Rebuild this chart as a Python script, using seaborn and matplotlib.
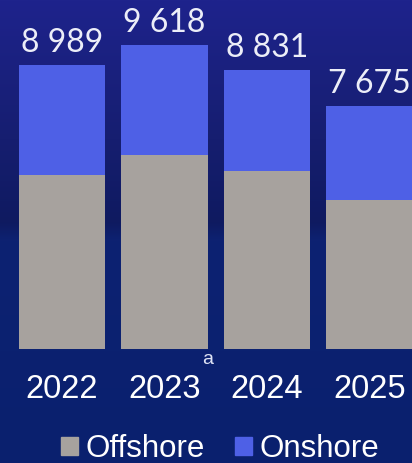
import numpy as np
import pandas as pd
import matplotlib
matplotlib.use('Agg')
import matplotlib.pyplot as plt
from matplotlib.colors import LinearSegmentedColormap
from matplotlib.patches import Patch
import seaborn as sns

###############################################################################

years = ['2022', '2023', '2024', '2025']
offshore = [5510, 6140, 5635, 4720]
onshore = [3479, 3478, 3196, 2955]
series_names = ['Offshore', 'Onshore']
footnote = 'a'

col_off = '#a7a29e'
col_on = '#4e60e6'
txt_col = '#eceef8'

###############################################################################

if __name__ == "__main__":

    df = pd.DataFrame({'year': years, 'offshore': offshore,
                       'onshore': onshore})
    df['total'] = df['offshore'] + df['onshore']

    sns.set_style('white')

    fig = plt.figure(figsize=(4.12, 4.63), dpi=100)

    # background gradient
    bg = fig.add_axes([0, 0, 1, 1], zorder=0)
    bg_cmap = LinearSegmentedColormap.from_list('bg', [
        (0.0, (30 / 255, 35 / 255, 140 / 255)),
        (0.30, (22 / 255, 30 / 255, 112 / 255)),
        (0.48, (15 / 255, 26 / 255, 96 / 255)),
        (0.52, (13 / 255, 34 / 255, 114 / 255)),
        (1.0, (10 / 255, 32 / 255, 110 / 255)),
    ])
    grad = np.linspace(0, 1, 256).reshape(-1, 1)
    bg.imshow(grad, aspect='auto', cmap=bg_cmap,
              extent=[0, 1, 1, 0])
    bg.axis('off')

    ax = fig.add_axes([0, 0, 1, 1], zorder=1)
    ax.patch.set_alpha(0)

    sns.barplot(data=df, x='year', y='total', color=col_on, width=0.84,
                saturation=1, linewidth=0, ax=ax)
    sns.barplot(data=df, x='year', y='offshore', color=col_off, width=0.84,
                saturation=1, linewidth=0, ax=ax)

    px = 1 / 0.03164
    ax.set_xlim(-62 / 102.5, (412 - 62) / 102.5)
    ax.set_ylim(-(463 - 349) * px, 349 * px)
    ax.axis('off')

    for ii, tot in enumerate(df['total']):
        lbl = '{:,}'.format(tot).replace(',', ' ')
        ax.annotate(lbl, xy=(ii, tot), xytext=(0, 9.4),
                    textcoords='offset points', ha='center', va='baseline',
                    fontsize=23, family=['Lato', 'DejaVu Sans'],
                    color=txt_col)
        ax.text(ii, 1 - 398 / 463, years[ii],
                transform=ax.get_xaxis_transform(), ha='center',
                va='baseline', fontsize=23.5, family='Liberation Sans',
                color='white')

    fig.text(208 / 412, 1 - 363.5 / 463, footnote, ha='center',
             va='baseline', fontsize=14, family='Liberation Sans',
             color='#dfe3f5')

    handles = [Patch(color=col_off, label=series_names[0]),
               Patch(color=col_on, label=series_names[1])]
    leg = fig.legend(handles=handles, loc='center',
                     bbox_to_anchor=(220 / 412, 1 - 449 / 463),
                     ncol=2, frameon=False, fontsize=22.5,
                     handlelength=0.54, handleheight=0.54,
                     handletextpad=0.25, columnspacing=0.95,
                     borderpad=0, borderaxespad=0)
    for t in leg.get_texts():
        t.set_color('white')
        t.set_family('Liberation Sans')

    plt.savefig('out.png', dpi=100)
